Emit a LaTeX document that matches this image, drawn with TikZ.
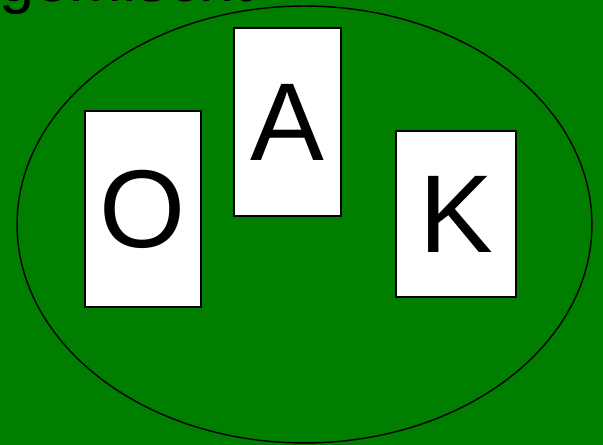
\documentclass[tikz,border=0pt]{standalone}
\usepackage{fontspec}
\setmainfont{Liberation Sans}
\definecolor{feltgreen}{RGB}{0, 126, 0}
\usetikzlibrary{shapes.geometric}

\begin{document}
\begin{tikzpicture}[x=0.02cm, y=-0.02cm,
    card/.style={draw, fill=white, line width=0.8pt, inner sep=0pt,
                 font=\fontsize{63}{63}\selectfont},
    table/.style={ellipse, draw, line width=0.8pt, inner sep=0pt,
                  minimum width=11.5cm, minimum height=8.74cm}
  ]
    \useasboundingbox (0,0) rectangle (603,445);
    \clip (0,0) rectangle (603,445);
    \fill[feltgreen] (0,0) rectangle (603,445);
    \node[anchor=base west, inner sep=0pt, font=\fontsize{36}{36}\selectfont] (title) at (-1,2) {gemischt};
    \node[table] (tbl) at (304.5,224.5) {};
    \node[card, minimum width=2.32cm, minimum height=3.92cm] (cardO) at (143,209) {O};
    \node[card, minimum width=2.14cm, minimum height=3.76cm] (cardA) at (287.5,122) {A};
    \node[card, minimum width=2.4cm, minimum height=3.32cm] (cardK) at (456,214) {K};
  \end{tikzpicture}
\end{document}
